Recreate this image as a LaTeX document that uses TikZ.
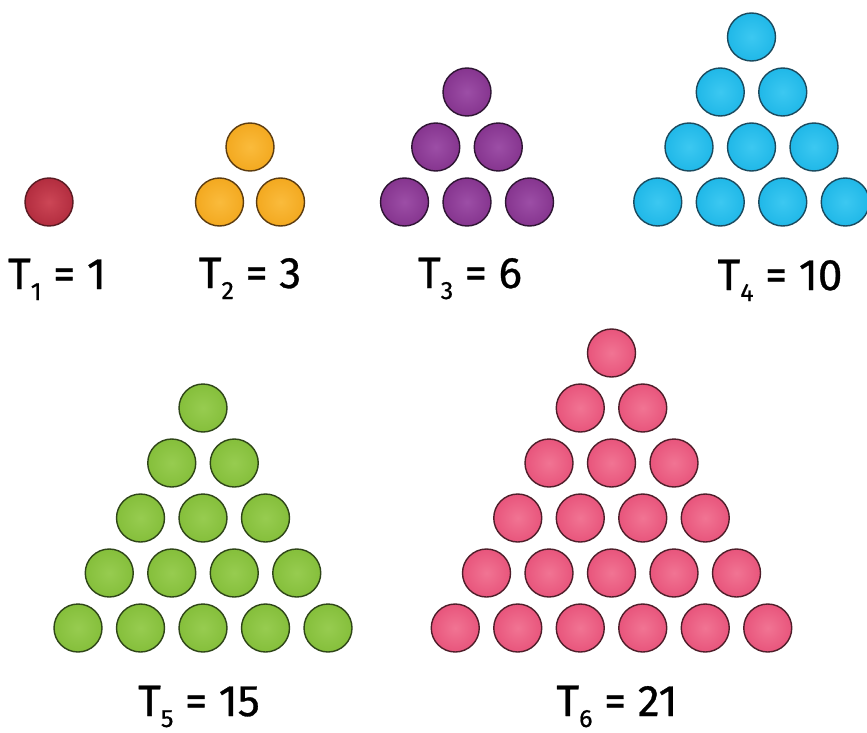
\documentclass[tikz,border=0pt]{standalone}
\usepackage{fontspec}
\setmainfont{Fira Sans}
\newfontfamily\labfont[FakeBold=0.7]{Fira Sans}
\definecolor{redE}{HTML}{5A1A22}\definecolor{redI}{HTML}{CC4656}\definecolor{redO}{HTML}{B32D3F}
\definecolor{orgE}{HTML}{5C3C10}\definecolor{orgI}{HTML}{FABB3C}\definecolor{orgO}{HTML}{F3A920}
\definecolor{purE}{HTML}{2E1533}\definecolor{purI}{HTML}{9C4EA6}\definecolor{purO}{HTML}{86358F}
\definecolor{cyaE}{HTML}{1B4A5E}\definecolor{cyaI}{HTML}{3CC8F1}\definecolor{cyaO}{HTML}{20B8E8}
\definecolor{grnE}{HTML}{2E4518}\definecolor{grnI}{HTML}{97CC50}\definecolor{grnO}{HTML}{85BF3B}
\definecolor{pnkE}{HTML}{4E1E2A}\definecolor{pnkI}{HTML}{F17493}\definecolor{pnkO}{HTML}{E8557C}
\newcommand\trianglebuild[6]{%
  \foreach \r in {1,...,#4}{%
    \foreach \k in {1,...,\r}{%
      \node[#6] (#1-\r-\k) at ({#2+(\k-(\r+1)/2)*#5},{#3+(\r-1)*55}) {};
    }%
  }%
}
\newcommand\tlab[2]{T\raisebox{-5.5pt}{\fontsize{12.5}{12.5}\selectfont #1} = #2}
\begin{document}
\begin{tikzpicture}[x=0.5pt,y=-0.5pt,
  ball/.style n args={3}{circle,inner sep=0pt,minimum size=24pt,line width=0.7pt,draw=#1,inner color=#2,outer color=#3},
  ballA/.style={ball={redE}{redI}{redO}},
  ballB/.style={ball={orgE}{orgI}{orgO}},
  ballC/.style={ball={purE}{purI}{purO}},
  ballD/.style={ball={cyaE}{cyaI}{cyaO}},
  ballE/.style={ball={grnE}{grnI}{grnO}},
  ballF/.style={ball={pnkE}{pnkI}{pnkO}},
  lab/.style={anchor=base,inner sep=0pt,font=\labfont\fontsize{22}{22}\selectfont}]
\useasboundingbox (0,0) rectangle (867,733);
\fill[white] (0,0) rectangle (867,733);
\trianglebuild{ta}{49}{202}{1}{62.5}{ballA}
\trianglebuild{tb}{250}{147}{2}{61}{ballB}
\trianglebuild{tc}{467}{92}{3}{62.5}{ballC}
\trianglebuild{td}{751.5}{37}{4}{62.5}{ballD}
\trianglebuild{te}{203}{408}{5}{62.5}{ballE}
\trianglebuild{tf}{611.5}{353}{6}{62.5}{ballF}
\node[lab] (la) at (57,289) {\tlab{1}{1}};
\node[lab] (lb) at (250,288) {\tlab{2}{3}};
\node[lab] (lc) at (470,288) {\tlab{3}{6}};
\node[lab] (ld) at (780,290) {\tlab{4}{10}};
\node[lab] (le) at (199,716) {\tlab{5}{15}};
\node[lab] (lf) at (617,716) {\tlab{6}{21}};
\end{tikzpicture}
\end{document}
